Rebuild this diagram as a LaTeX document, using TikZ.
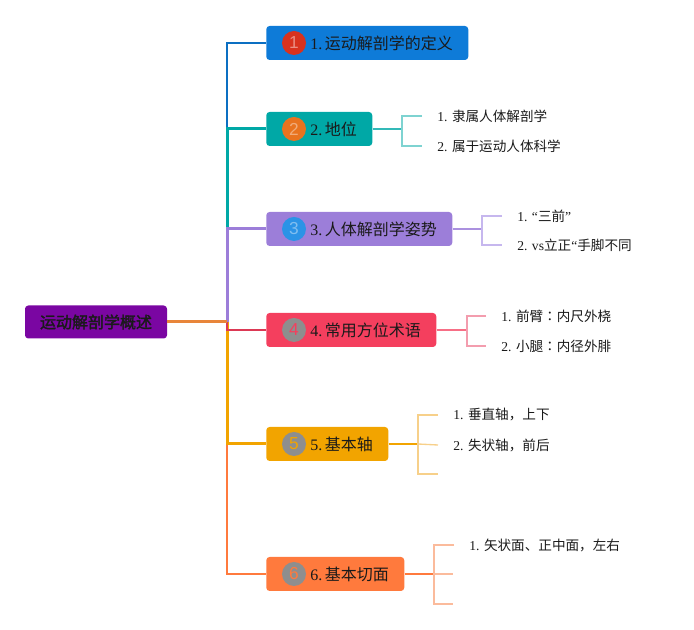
\documentclass[tikz,border=0pt]{standalone}
\usepackage{fontspec}
\setmainfont{Liberation Serif}
\newfontfamily\cjk[AutoFakeBold=2]{Noto Sans CJK SC}
\newfontfamily\cjkjp{Noto Sans CJK JP}
\newfontfamily\numf{Liberation Sans}
\usetikzlibrary{positioning,calc}
\definecolor{txt}{HTML}{1A1A1A}
\definecolor{rootc}{HTML}{7A06A2}
\definecolor{rootline}{HTML}{E8853A}
\definecolor{c1}{HTML}{0E7BD8}
\definecolor{c2}{HTML}{00A8A6}
\definecolor{c3}{HTML}{9C7ED9}
\definecolor{c4}{HTML}{F43F5E}
\definecolor{c5}{HTML}{F2A400}
\definecolor{c6}{HTML}{FF7A3D}
\definecolor{l2}{HTML}{7ED3D1}
\definecolor{l3}{HTML}{C6B7EE}
\definecolor{l4}{HTML}{F39DAE}
\definecolor{l5}{HTML}{F7D08A}
\definecolor{l6}{HTML}{FBBB9C}
\definecolor{k1c}{HTML}{D8321E}
\definecolor{k2c}{HTML}{E8731F}
\definecolor{k3c}{HTML}{2B93E6}
\definecolor{numgray}{HTML}{8E8E8E}
\begin{document}
\begin{tikzpicture}[x=0.75pt,y=-0.75pt,
    mainbox/.style={rounded corners=2.5pt,minimum height=25.5pt,inner sep=0pt,anchor=west},
    numc/.style={circle,minimum size=18pt,inner sep=0pt,font=\numf\fontsize{13}{13}\selectfont},
    maintext/.style={anchor=west,inner sep=0pt,text=txt,font=\fontsize{12}{14}\selectfont},
    subtext/.style={anchor=west,inner sep=0pt,text=txt,font=\fontsize{10.2}{12}\selectfont},
    trunkline/.style={line width=2.25pt},
    thinline/.style={line width=1.5pt},
    subline/.style={line width=1pt}]
    \useasboundingbox (0,0) rectangle (694,630);
    \node[rounded corners=2.5pt,fill=rootc,minimum width=106.5pt,minimum height=24.75pt,inner sep=0pt,
        text=txt,font=\cjk\bfseries\fontsize{12}{14}\selectfont] (root) at (96,322) {运动解剖学概述};
    \node[mainbox,fill=c1,minimum width=151.5pt] (n1) at (266,43) {};
    \node[mainbox,fill=c2,minimum width=79.5pt] (n2) at (266,129) {};
    \node[mainbox,fill=c3,minimum width=139.5pt] (n3) at (266,229) {};
    \node[mainbox,fill=c4,minimum width=127.5pt] (n4) at (266,330) {};
    \node[mainbox,fill=c5,minimum width=91.5pt] (n5) at (266,444) {};
    \node[mainbox,fill=c6,minimum width=103.5pt] (n6) at (266,574) {};
    \node[numc,fill=k1c,text=k1c!55!white] (k1) at ([xshift=21pt]n1.west) {1};
    \node[numc,fill=k2c,text=k2c!60!white] (k2) at ([xshift=21pt]n2.west) {2};
    \node[numc,fill=k3c,text=k3c!60!white] (k3) at ([xshift=21pt]n3.west) {3};
    \node[numc,fill=numgray,text=c4] (k4) at ([xshift=21pt]n4.west) {4};
    \node[numc,fill=numgray,text=c5] (k5) at ([xshift=21pt]n5.west) {5};
    \node[numc,fill=numgray,text=c6] (k6) at ([xshift=21pt]n6.west) {6};
    \node[maintext] (t1) at ([xshift=33pt]n1.west) {1.\,{\cjk 运动解剖学的定义}};
    \node[maintext] (t2) at ([xshift=33pt]n2.west) {2.\,{\cjk 地位}};
    \node[maintext] (t3) at ([xshift=33pt]n3.west) {3.\,{\cjk 人体解剖学姿势}};
    \node[maintext] (t4) at ([xshift=33pt]n4.west) {4.\,{\cjk 常用方位术语}};
    \node[maintext] (t5) at ([xshift=33pt]n5.west) {5.\,{\cjk 基本轴}};
    \node[maintext] (t6) at ([xshift=33pt]n6.west) {6.\,{\cjk 基本切面}};
    \coordinate (fork) at (227,322);
    \draw[thinline,c1!90!black] (fork) |- (n1.west);
    \draw[trunkline,c2] (fork) |- (n2.west);
    \draw[trunkline,c3] (fork) |- (n3.west);
    \draw[thinline,c6] (fork) |- (n6.west);
    \draw[trunkline,c5] (fork) |- (n5.west);
    \draw[thinline,c4!90!black] (fork) |- (n4.west);
    \draw[trunkline,rootline] (root.east) -- (fork);
    \node[subtext] (s21) at (437,116) {1. {\cjk 隶属人体解剖学}};
    \node[subtext] (s22) at (437,146) {2. {\cjk 属于运动人体科学}};
    \node[subtext] (s31) at (517,216) {1. “{\cjk 三前}”};
    \node[subtext] (s32) at (517,245) {2. vs{\cjk 立正}“{\cjk 手脚不同}};
    \node[subtext] (s41) at (501,316) {1. {\cjk 前臂}{\cjkjp ：}{\cjk 内尺外桡}};
    \node[subtext] (s42) at (501,346) {2. {\cjk 小腿}{\cjkjp ：}{\cjk 内径外腓}};
    \node[subtext] (s51) at (453,415) {1. {\cjk 垂直轴，上下}};
    \node[subtext] (s52) at (453,445) {2. {\cjk 失状轴，前后}};
    \coordinate (e53) at (438,474);
    \node[subtext] (s61) at (469,545) {1. {\cjk 矢状面、正中面，左右}};
    \coordinate (e62) at (453,574);
    \coordinate (e63) at (453,604);
    \coordinate (b2) at (402,129);
    \coordinate (b3) at (482,229);
    \coordinate (b4) at (467,330);
    \coordinate (b5) at (418,444);
    \coordinate (b6) at (434,574);
    \draw[thinline,c2!80!white] (n2.east) -- (b2);
    \draw[thinline,c3!85!white] (n3.east) -- (b3);
    \draw[thinline,c4!75!white] (n4.east) -- (b4);
    \draw[thinline,c5] (n5.east) -- (b5);
    \draw[thinline,c6] (n6.east) -- (b6);
    \draw[subline,l2] ([xshift=-11.25pt]s21.west) -| (b2) |- ([xshift=-11.25pt]s22.west);
    \draw[subline,l3] ([xshift=-11.25pt]s31.west) -| (b3) |- ([xshift=-11.25pt]s32.west);
    \draw[subline,l4] ([xshift=-11.25pt]s41.west) -| (b4) |- ([xshift=-11.25pt]s42.west);
    \draw[subline,l5] ([xshift=-11.25pt]s51.west) -| (b5) |- (e53);
    \draw[subline,l5] (b5) -- ([xshift=-11.25pt]s52.west);
    \draw[subline,l6] ([xshift=-11.25pt]s61.west) -| (b6) |- (e63);
    \draw[subline,l6] (b6) -- (e62);
\end{tikzpicture}
\end{document}
